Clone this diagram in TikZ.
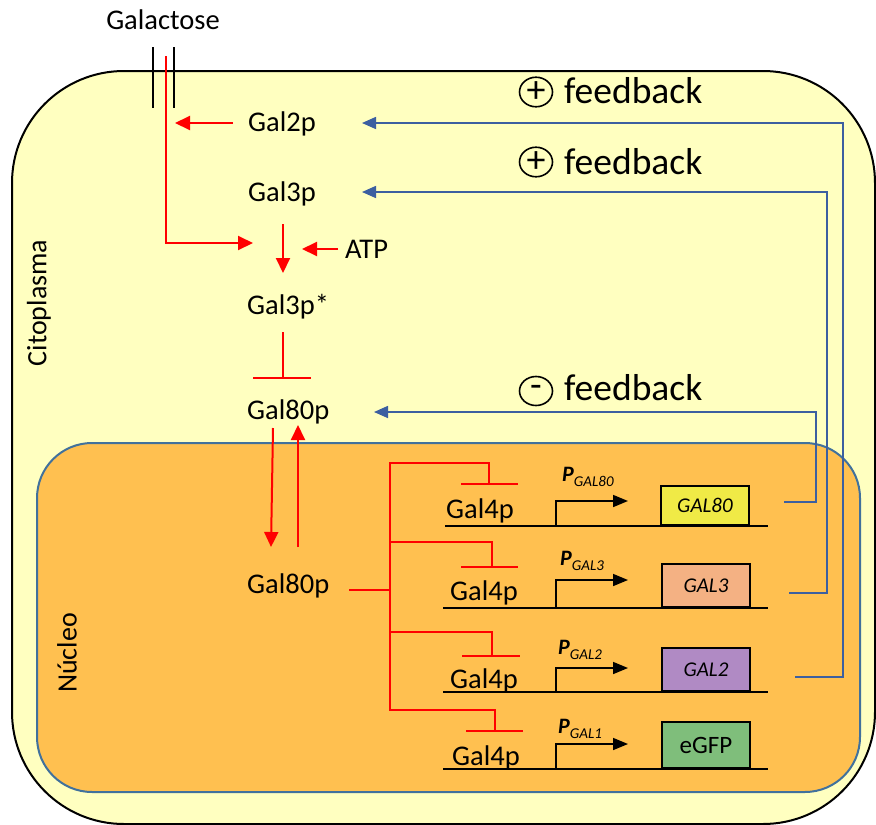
\documentclass[tikz,border=0pt]{standalone}
\usepackage{fontspec}
\setmainfont{Carlito}
\usetikzlibrary{arrows.meta,shapes.geometric}
\definecolor{cyto}{RGB}{255,255,192}
\definecolor{nucfill}{RGB}{255,192,80}
\definecolor{nucline}{RGB}{65,113,156}
\definecolor{fbblue}{RGB}{60,95,160}
\definecolor{gyellow}{RGB}{240,234,70}
\definecolor{gsalmon}{RGB}{244,177,131}
\definecolor{gpurple}{RGB}{176,138,196}
\definecolor{ggreen}{RGB}{127,190,123}
\begin{document}
\begin{tikzpicture}[x=1pt,y=-1pt,
  lbl/.style={font=\fontsize{28.5}{32}\selectfont, inner sep=0pt, anchor=base west},
  fbtext/.style={font=\fontsize{37.5}{40}\selectfont, inner sep=0pt, anchor=base west},
  fbsign/.style={draw, ellipse, line width=1.6pt, minimum width=33pt, minimum height=29pt, inner sep=0pt, font=\fontsize{38}{38}\selectfont},
  redarr/.style={red, line width=2pt, -{Triangle[length=15pt,width=14pt]}},
  inhline/.style={red, line width=2pt},
  fbarr/.style={fbblue, line width=1.6pt, -{Triangle[length=14pt,width=12pt]}},
  dnaline/.style={black, line width=2pt},
  promarr/.style={black, line width=1.6pt, -{Triangle[length=15pt,width=12pt]}},
  plabel/.style={inner sep=0pt, anchor=base west},
  genebox/.style={draw, line width=2pt, minimum width=88pt, inner sep=0pt, anchor=south west, font=\fontsize{21}{24}\selectfont\itshape},
]
\useasboundingbox (0,0) rectangle (876,825);

% compartments
\draw[line width=2pt, fill=cyto, rounded corners=112pt] (12,71) rectangle (875,824);
\draw[line width=2pt, draw=nucline, fill=nucfill, rounded corners=55pt] (37,443) rectangle (860,792);

\node[font=\fontsize{28}{32}\selectfont, rotate=90, inner sep=0pt] (cito) at (39,303) {Citoplasma};
\node[font=\fontsize{28}{32}\selectfont, rotate=90, inner sep=0pt] (nucleo) at (67,653) {Núcleo};

% galactose channel
\node[font=\fontsize{28.5}{32}\selectfont, inner sep=0pt, anchor=base] (galac) at (163,29) {Galactose};
\coordinate (chL1) at (153,47); \coordinate (chL2) at (153,108);
\coordinate (chR1) at (174,47); \coordinate (chR2) at (174,108);
\draw[line width=2pt] (chL1) -- (chL2);
\draw[line width=2pt] (chR1) -- (chR2);

% labels
\node[lbl] (gal2p) at (248,131) {Gal2p};
\node[lbl] (gal3p) at (248,201) {Gal3p};
\node[lbl] (atp) at (345,258) {ATP};
\node[lbl] (gal3ps) at (247,314) {Gal3p*};
\node[lbl] (gal80c) at (247,419) {Gal80p};
\node[lbl] (gal80n) at (247,593) {Gal80p};

% red cytoplasm arrows
\coordinate (galin) at (166,56);
\coordinate (galcorner) at (166,243);
\coordinate (galtip) at (253,243);
\draw[redarr] (galin) -- (galcorner) -- (galtip);
\coordinate (g2start) at (233,123);
\coordinate (g2tip) at (175,123);
\draw[redarr] (g2start) -- (g2tip);
\coordinate (g3start) at (283,224);
\coordinate (g3tip) at (283,273);
\draw[redarr] (g3start) -- (g3tip);
\coordinate (atpstart) at (338,249);
\coordinate (atptip) at (302,249);
\draw[redarr] (atpstart) -- (atptip);
% inhibition Gal3p* -| Gal80p
\coordinate (inhtop) at (283,332);
\coordinate (inhbot) at (283,378);
\draw[inhline] (inhtop) -- (inhbot);
\draw[inhline] (253,378) -- (311,378);
% Gal80p shuttle
\coordinate (dnstart) at (273,428);
\coordinate (dntip) at (271,547);
\draw[redarr] (dnstart) -- (dntip);
\coordinate (upstart) at (298,547);
\coordinate (uptip) at (298,425);
\draw[redarr] (upstart) -- (uptip);

% Gal80p inhibition tree
\coordinate (g80out) at (349,590);
\coordinate (trunk) at (390,590);
\draw[inhline] (g80out) -- (trunk);
\draw[inhline] (489,484) |- (390,463) -- (390,710) -| (495,731);
\draw[inhline] (390,542) -| (492,567);
\draw[inhline] (390,632) -| (492,656);
\draw[inhline] (461,484) -- (518,484);
\draw[inhline] (461,567) -- (518,567);
\draw[inhline] (462,656) -- (520,656);
\draw[inhline] (466,731) -- (523,731);

% gene rows
\node[lbl] (g4a) at (446,518) {Gal4p};
\node[lbl] (g4b) at (450,600) {Gal4p};
\node[lbl] (g4c) at (450,688) {Gal4p};
\node[lbl] (g4d) at (452,765) {Gal4p};

\draw[dnaline] (445,526) -- (768,526);
\draw[dnaline] (443,608) -- (768,608);
\draw[dnaline] (443,692) -- (768,692);
\draw[dnaline] (443,769) -- (768,769);

\draw[promarr] (556,526) -- (556,501) -- (628,501);
\draw[promarr] (556,608) -- (556,580) -- (628,580);
\draw[promarr] (556,692) -- (556,668) -- (628,668);
\draw[promarr] (556,769) -- (556,744) -- (628,744);

\node[plabel] (p80) at (562,481) {\fontsize{22}{24}\selectfont\textbf{\textit{P}}\raisebox{-5pt}{\fontsize{15}{16}\selectfont\textit{GAL80}}};
\node[plabel] (p3) at (560,565) {\fontsize{22}{24}\selectfont\textbf{\textit{P}}\raisebox{-5pt}{\fontsize{15}{16}\selectfont\textit{GAL3}}};
\node[plabel] (p2) at (558,654) {\fontsize{22}{24}\selectfont\textbf{\textit{P}}\raisebox{-5pt}{\fontsize{15}{16}\selectfont\textit{GAL2}}};
\node[plabel] (p1) at (558,733) {\fontsize{22}{24}\selectfont\textbf{\textit{P}}\raisebox{-5pt}{\fontsize{15}{16}\selectfont\textit{GAL1}}};

\node[genebox, fill=gyellow, minimum height=39pt] (b80) at (660,526) {GAL80};
\node[genebox, fill=gsalmon, minimum height=43pt] (b3) at (661,608) {GAL3};
\node[genebox, fill=gpurple, minimum height=43pt] (b2) at (661,692) {GAL2};
\node[genebox, fill=ggreen, minimum height=46pt, font=\fontsize{25}{28}\selectfont] (bgfp) at (661,769) {eGFP};

% feedback loops
\coordinate (fb1s) at (795,677); \coordinate (fb1c) at (843,677); \coordinate (fb1t) at (362,123);
\draw[fbarr] (fb1s) -- (fb1c) |- (fb1t);
\coordinate (fb2s) at (789,593); \coordinate (fb2c) at (827,593); \coordinate (fb2t) at (362,192);
\draw[fbarr] (fb2s) -- (fb2c) |- (fb2t);
\coordinate (fb3s) at (784,502); \coordinate (fb3c) at (816,502); \coordinate (fb3t) at (374,412);
\draw[fbarr] (fb3s) -- (fb3c) |- (fb3t);

\node[fbsign] (s1) at (536,92) {+};
\node[fbtext] (f1) at (564,103) {feedback};
\node[fbsign] (s2) at (536,162) {+};
\node[fbtext] (f2) at (564,174) {feedback};
\node[fbsign] (s3) at (536,391) {-};
\node[fbtext] (f3) at (564,400) {feedback};
\end{tikzpicture}
\end{document}
